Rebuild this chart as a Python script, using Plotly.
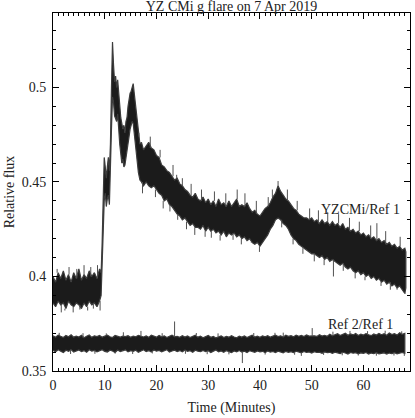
import plotly.graph_objects as go

# ---------------- data ----------------
# YZ CMi / Ref 1 : upper and lower envelope of the noisy light curve
yz_t = [0.0, 0.5, 1.0, 1.5, 2.0, 2.5, 3.0, 3.5, 4.0, 4.5, 5.0, 5.5, 6.0, 6.5, 7.0, 7.5,
        8.0, 8.5, 9.0, 9.3, 9.5, 9.7, 9.9, 10.1, 10.3, 10.5, 10.7, 10.9, 11.1, 11.3,
        11.5, 11.7, 11.9, 12.1, 12.3, 12.5, 12.7, 12.9, 13.1, 13.3, 13.5, 13.7, 13.9,
        14.1, 14.3, 14.5, 14.7, 14.9, 15.1, 15.3, 15.5, 15.7, 15.9, 16.1, 16.3, 16.5,
        16.8, 17.1, 17.5, 18.0, 18.5, 19.0, 19.5, 20.0, 20.5, 21.0, 21.5, 22.0, 22.5,
        23.0, 23.5, 24.0, 24.5, 25.0, 25.5, 26.0, 26.5, 27.0, 27.5, 28.0, 28.5, 29.0,
        29.5, 30.0, 30.5, 31.0, 31.5, 32.0, 32.5, 33.0, 33.5, 34.0, 34.5, 35.0, 35.5,
        36.0, 36.5, 37.0, 37.5, 38.0, 38.5, 39.0, 39.5, 40.0, 40.5, 41.0, 41.5, 42.0,
        42.5, 43.0, 43.5, 44.0, 44.5, 45.0, 45.5, 46.0, 46.5, 47.0, 47.5, 48.0, 48.5,
        49.0, 49.5, 50.0, 50.5, 51.0, 51.5, 52.0, 52.5, 53.0, 53.5, 54.0, 54.5, 55.0,
        55.5, 56.0, 56.5, 57.0, 57.5, 58.0, 58.5, 59.0, 59.5, 60.0, 60.5, 61.0, 61.5,
        62.0, 62.5, 63.0, 63.5, 64.0, 64.5, 65.0, 65.5, 66.0, 66.5, 67.0, 67.5, 68.0,
        68.2]
yz_hi = [0.400, 0.397, 0.402, 0.399, 0.403, 0.398, 0.401, 0.397, 0.402, 0.399, 0.404,
         0.398, 0.401, 0.399, 0.403, 0.400, 0.402, 0.399, 0.404, 0.402, 0.418, 0.443,
         0.463, 0.458, 0.452, 0.458, 0.463, 0.456, 0.470, 0.500, 0.524, 0.512, 0.503,
         0.506, 0.500, 0.504, 0.496, 0.488, 0.484, 0.481, 0.478, 0.480, 0.476, 0.482,
         0.484, 0.490, 0.494, 0.497, 0.498, 0.500, 0.502, 0.497, 0.492, 0.486, 0.480,
         0.474, 0.470, 0.471, 0.467, 0.469, 0.471, 0.468, 0.467, 0.464, 0.463, 0.459,
         0.458, 0.456, 0.455, 0.453, 0.451, 0.452, 0.449, 0.448, 0.446, 0.445, 0.443,
         0.442, 0.444, 0.441, 0.440, 0.442, 0.439, 0.441, 0.438, 0.440, 0.437, 0.441,
         0.438, 0.439, 0.437, 0.440, 0.437, 0.439, 0.441, 0.437, 0.438, 0.437, 0.439,
         0.436, 0.434, 0.435, 0.433, 0.432, 0.434, 0.436, 0.437, 0.439, 0.442, 0.444,
         0.448, 0.445, 0.443, 0.441, 0.440, 0.438, 0.436, 0.435, 0.433, 0.432, 0.431,
         0.431, 0.430, 0.431, 0.429, 0.430, 0.428, 0.430, 0.428, 0.429, 0.427, 0.429,
         0.427, 0.428, 0.426, 0.428, 0.425, 0.426, 0.424, 0.425, 0.423, 0.424, 0.422,
         0.423, 0.421, 0.422, 0.420, 0.421, 0.419, 0.420, 0.418, 0.419, 0.417, 0.418,
         0.416, 0.417, 0.415, 0.416, 0.414, 0.415, 0.413]
yz_lo = [0.386, 0.384, 0.387, 0.385, 0.386, 0.383, 0.387, 0.385, 0.384, 0.386, 0.385,
         0.383, 0.386, 0.384, 0.387, 0.385, 0.386, 0.384, 0.387, 0.390, 0.405, 0.425,
         0.440, 0.444, 0.437, 0.441, 0.443, 0.438, 0.450, 0.478, 0.495, 0.492, 0.485,
         0.484, 0.482, 0.486, 0.478, 0.470, 0.464, 0.460, 0.462, 0.458, 0.459, 0.463,
         0.466, 0.470, 0.474, 0.478, 0.480, 0.482, 0.481, 0.478, 0.472, 0.466, 0.460,
         0.455, 0.451, 0.450, 0.448, 0.450, 0.448, 0.447, 0.448, 0.446, 0.444, 0.443,
         0.440, 0.441, 0.438, 0.437, 0.435, 0.433, 0.432, 0.430, 0.431, 0.429, 0.427,
         0.428, 0.426, 0.426, 0.425, 0.427, 0.424, 0.426, 0.424, 0.425, 0.423, 0.424,
         0.422, 0.424, 0.421, 0.423, 0.422, 0.423, 0.421, 0.422, 0.420, 0.421, 0.419,
         0.420, 0.418, 0.417, 0.418, 0.416, 0.418, 0.420, 0.422, 0.425, 0.427, 0.430,
         0.431, 0.430, 0.428, 0.427, 0.425, 0.422, 0.420, 0.419, 0.417, 0.416, 0.415,
         0.414, 0.413, 0.412, 0.412, 0.411, 0.410, 0.411, 0.409, 0.410, 0.408, 0.409,
         0.408, 0.407, 0.406, 0.407, 0.405, 0.404, 0.405, 0.403, 0.402, 0.403, 0.401,
         0.402, 0.400, 0.401, 0.399, 0.400, 0.398, 0.399, 0.397, 0.398, 0.396, 0.397,
         0.395, 0.396, 0.394, 0.395, 0.393, 0.391, 0.394]
# isolated noise spikes of the YZ CMi curve (time, extreme value)
yz_spike_t = [0.8, 1.6, 2.3, 3.1, 3.9, 4.6, 5.2, 6.0, 6.7, 7.3, 7.8, 8.6, 9.1,
              16.6, 17.3, 18.8, 19.8, 20.7, 21.3, 22.6, 23.2, 23.9, 24.1, 25.0, 25.8,
              26.7, 27.4, 28.7, 29.4, 30.6, 31.2, 32.3, 33.4, 34.8, 35.6, 36.4, 37.1,
              38.3, 39.3, 39.9, 41.6, 42.4, 43.5, 44.2, 45.3, 46.4, 47.2, 48.3, 49.6,
              50.5, 51.3, 52.4, 53.1, 54.2, 55.2, 56.1, 57.3, 58.4, 59.2, 60.3, 61.4,
              62.6, 63.4, 64.3, 65.2, 66.5, 67.1, 68.1]
yz_spike_v = [0.404, 0.381, 0.382, 0.405, 0.381, 0.404, 0.3825, 0.406, 0.382, 0.405,
              0.383, 0.406, 0.382,
              0.476, 0.444, 0.474, 0.442, 0.467, 0.436, 0.4344, 0.459, 0.4538, 0.430,
              0.452, 0.425, 0.449, 0.422, 0.446, 0.421, 0.4205, 0.445, 0.419, 0.444,
              0.4194, 0.446, 0.417, 0.444, 0.4178, 0.440, 0.413, 0.442, 0.446, 0.4505,
              0.426, 0.446, 0.417, 0.440, 0.412, 0.436, 0.408, 0.435, 0.406, 0.434,
              0.400, 0.433, 0.403, 0.431, 0.399, 0.429, 0.398, 0.427, 0.4282, 0.395,
              0.424, 0.393, 0.393, 0.421, 0.3914]

# Ref 2 / Ref 1 : envelope, sampled every 0.5 min from 0 to 68 min
ref_t = [i * 0.5 for i in range(137)]
ref_hi = [0.3686, 0.3679, 0.3690, 0.3683, 0.3677, 0.3688, 0.3681, 0.3692, 0.3679, 0.3685,
          0.3680, 0.3689, 0.3676, 0.3684, 0.3691, 0.3678, 0.3686, 0.3682, 0.3688, 0.3679,
          0.3684, 0.3690, 0.3681, 0.3677, 0.3688, 0.3683, 0.3679, 0.3684, 0.3682, 0.3687,
          0.3678, 0.3685, 0.3681, 0.3689, 0.3683, 0.3680, 0.3686, 0.3678, 0.3690, 0.3683,
          0.3679, 0.3688, 0.3681, 0.3686, 0.3677, 0.3684, 0.3689, 0.3681, 0.3683, 0.3678,
          0.3687, 0.3680, 0.3685, 0.3677, 0.3683, 0.3689, 0.3679, 0.3684, 0.3676, 0.3682,
          0.3688, 0.3678, 0.3683, 0.3675, 0.3681, 0.3686, 0.3677, 0.3683, 0.3679, 0.3687,
          0.3680, 0.3676, 0.3684, 0.3679, 0.3685, 0.3677, 0.3683, 0.3689, 0.3680, 0.3684,
          0.3678, 0.3686, 0.3681, 0.3687, 0.3679, 0.3685, 0.3690, 0.3682, 0.3686, 0.3680,
          0.3689, 0.3683, 0.3687, 0.3681, 0.3690, 0.3684, 0.3688, 0.3682, 0.3691, 0.3685,
          0.3686, 0.3686, 0.3683, 0.3692, 0.3685, 0.3689, 0.3684, 0.3694, 0.3686, 0.3691,
          0.3697, 0.3688, 0.3694, 0.3700, 0.3689, 0.3696, 0.3691, 0.3699, 0.3688, 0.3695,
          0.3690, 0.3698, 0.3692, 0.3687, 0.3696, 0.3690, 0.3699, 0.3692, 0.3697, 0.3689,
          0.3701, 0.3693, 0.3698, 0.3690, 0.3702, 0.3694, 0.3699]
ref_lo = [0.3609, 0.3602, 0.3612, 0.3605, 0.3598, 0.3610, 0.3604, 0.3613, 0.3600, 0.3607,
          0.3611, 0.3603, 0.3608, 0.3599, 0.3612, 0.3605, 0.3609, 0.3601, 0.3606, 0.3613,
          0.3604, 0.3600, 0.3610, 0.3606, 0.3598, 0.3611, 0.3603, 0.3608, 0.3612, 0.3601,
          0.3607, 0.3604, 0.3610, 0.3599, 0.3606, 0.3612, 0.3603, 0.3608, 0.3600, 0.3611,
          0.3605, 0.3609, 0.3602, 0.3607, 0.3613, 0.3600, 0.3606, 0.3610, 0.3603, 0.3608,
          0.3601, 0.3611, 0.3604, 0.3607, 0.3599, 0.3610, 0.3605, 0.3602, 0.3609, 0.3603,
          0.3607, 0.3598, 0.3605, 0.3611, 0.3601, 0.3606, 0.3599, 0.3608, 0.3603, 0.3597,
          0.3606, 0.3601, 0.3608, 0.3600, 0.3605, 0.3598, 0.3607, 0.3602, 0.3599, 0.3606,
          0.3601, 0.3604, 0.3597, 0.3606, 0.3600, 0.3603, 0.3598, 0.3605, 0.3601, 0.3596,
          0.3604, 0.3599, 0.3602, 0.3597, 0.3605, 0.3600, 0.3596, 0.3603, 0.3598, 0.3601,
          0.3595, 0.3602, 0.3598, 0.3600, 0.3594, 0.3601, 0.3597, 0.3599, 0.3593, 0.3600,
          0.3596, 0.3592, 0.3599, 0.3595, 0.3590, 0.3598, 0.3594, 0.3597, 0.3591, 0.3596,
          0.3593, 0.3598, 0.3590, 0.3595, 0.3592, 0.3597, 0.3591, 0.3594, 0.3596, 0.3590,
          0.3595, 0.3592, 0.3597, 0.3591, 0.3594, 0.3598, 0.3593]
ref_spike_t = [1.2, 3.4, 5.8, 8.1, 10.3, 12.0, 13.6, 15.4, 17.0, 19.2, 21.1, 23.5, 25.6,
               27.7, 29.8, 31.9, 34.0, 36.6, 38.8, 41.0, 42.9, 44.5, 46.7, 48.0, 50.1,
               52.3, 54.1, 55.9, 57.4, 59.0, 60.8, 62.5, 64.2, 65.9, 67.4, 67.9]
ref_spike_v = [0.3702, 0.3590, 0.3700, 0.3591, 0.3699, 0.3592, 0.3705, 0.3590, 0.3712,
               0.3593, 0.3700, 0.3762, 0.3591, 0.3701, 0.3589, 0.3699, 0.3588, 0.3542,
               0.3701, 0.3587, 0.3702, 0.3703, 0.3586, 0.3580, 0.3727, 0.3585, 0.3708,
               0.3583, 0.3712, 0.3582, 0.3711, 0.3581, 0.3713, 0.3582, 0.3710, 0.3580]
yz_label = "YZCMi/Ref 1"
ref_label = "Ref 2/Ref 1"
title_text = "YZ CMi g flare on 7 Apr 2019"

x_ticks = [0, 10, 20, 30, 40, 50, 60]
y_ticks = [0.35, 0.4, 0.45, 0.5]
y_tick_text = ["0.35", "0.4", "0.45", "0.5"]

# ---------------- figure ----------------
BAND = "#1b1b1b"
EDGE = "#3c3c3c"
FONT = "Liberation Serif"
FS = 14
TXT = "#222222"

fig = go.Figure()


def band(t, hi, lo):
    fig.add_trace(go.Scatter(
        x=list(t) + list(t)[::-1], y=list(hi) + list(lo)[::-1],
        mode="lines", fill="toself", fillcolor=BAND,
        line=dict(color=EDGE, width=1.2), hoverinfo="skip", showlegend=False))


def spikes(t, v, base_t, base_hi, base_lo):
    xs, ys = [], []
    for ti, vi in zip(t, v):
        k = min(range(len(base_t)), key=lambda j: abs(base_t[j] - ti))
        mid = 0.5 * (base_hi[k] + base_lo[k])
        start = base_hi[k] if vi > mid else base_lo[k]
        xs += [ti, ti, None]
        ys += [start, vi, None]
    fig.add_trace(go.Scatter(x=xs, y=ys, mode="lines",
                             line=dict(color="#505050", width=1),
                             hoverinfo="skip", showlegend=False))


band(yz_t, yz_hi, yz_lo)
spikes(yz_spike_t, yz_spike_v, yz_t, yz_hi, yz_lo)
band(ref_t, ref_hi, ref_lo)
spikes(ref_spike_t, ref_spike_v, ref_t, ref_hi, ref_lo)

fig.add_annotation(x=59.5, y=0.4353, text=yz_label, showarrow=False,
                   font=dict(family=FONT, size=FS, color=TXT))
fig.add_annotation(x=59.4, y=0.3744, text=ref_label, showarrow=False,
                   font=dict(family=FONT, size=FS, color=TXT))

axis_common = dict(showline=True, linecolor="black", linewidth=1, mirror="allticks",
                   ticks="inside", ticklen=6, tickcolor="black", tickwidth=1,
                   showgrid=False, zeroline=False, automargin=False,
                   tickfont=dict(family=FONT, size=FS, color=TXT))

fig.update_xaxes(range=[0, 69], tickvals=x_ticks,
                 minor=dict(ticks="inside", dtick=1, tick0=0, ticklen=3,
                            tickcolor="black", showgrid=False),
                 title=dict(text="Time (Minutes)", font=dict(family=FONT, size=FS, color=TXT),
                            standoff=10),
                 ticklabelstandoff=1,
                 **axis_common)
fig.update_yaxes(range=[0.35, 0.5394], tickvals=y_ticks, ticktext=y_tick_text,
                 minor=dict(ticks="inside", dtick=0.01, tick0=0.35, ticklen=3,
                            tickcolor="black", showgrid=False),
                 title=dict(text="Relative flux", font=dict(family=FONT, size=FS, color=TXT),
                            standoff=3),
                 ticklabelstandoff=3,
                 **axis_common)

fig.update_layout(
    width=415, height=418, autosize=False,
    margin=dict(l=53, r=5, t=13, b=47, autoexpand=False),
    plot_bgcolor="white", paper_bgcolor="white",
    title=dict(text=title_text, x=(53 + 410) / 2 / 415, xanchor="center",
               y=1 - 6 / 418, yanchor="middle", yref="container",
               font=dict(family=FONT, size=FS, color=TXT)),
)

fig.write_html("out.html",
               config={"displayModeBar": False, "staticPlot": True},
               post_script="document.body.style.margin='0';"
                           "document.body.style.overflow='hidden';")
